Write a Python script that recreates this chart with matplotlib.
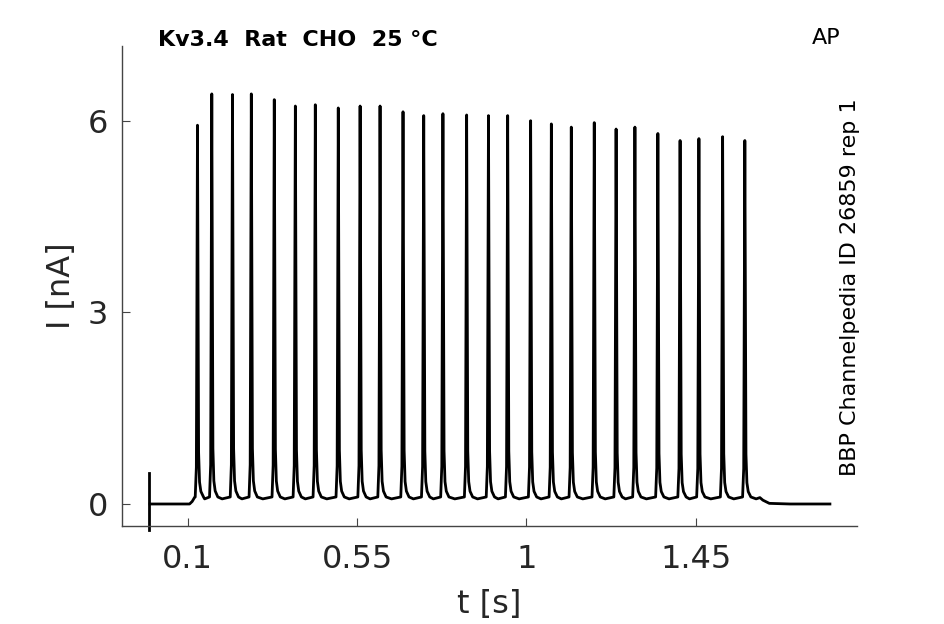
import matplotlib
matplotlib.use("Agg")
import matplotlib.pyplot as plt
import numpy as np

# spike peak times [s] and peak amplitudes [nA]
spike_t = [0.126, 0.164, 0.219, 0.269, 0.330, 0.386, 0.439, 0.500, 0.558,
           0.611, 0.672, 0.727, 0.778, 0.841, 0.899, 0.950, 1.011, 1.066,
           1.119, 1.180, 1.238, 1.288, 1.349, 1.408, 1.458, 1.521, 1.580]
spike_peak = [5.93, 6.42, 6.41, 6.42, 6.33, 6.23, 6.25, 6.20, 6.23,
              6.23, 6.14, 6.08, 6.11, 6.09, 6.08, 6.08, 6.00, 5.95,
              5.90, 5.97, 5.87, 5.90, 5.80, 5.69, 5.72, 5.75, 5.69]

# baseline before and after the spike train
pre_t = [0.0, 0.105, 0.112, 0.118]
pre_i = [0.0, 0.0, 0.04, 0.10]
post_t = [1.610, 1.620, 1.628, 1.645, 1.700, 1.806]
post_i = [0.08, 0.10, 0.06, 0.01, 0.0, 0.0]
trough_i = 0.11

# stimulus artifact at t = 0
art_t = -0.003
art_i = [0.49, -0.41]

# shape of one spike: offsets from peak [s], fraction of height above trough
shape_dt = [-0.006, -0.003, -0.0015, 0.0, 0.0015, 0.003, 0.0055, 0.009, 0.016]
shape_f = [0.0, 0.08, 0.55, 1.0, 0.55, 0.12, 0.04, 0.015, 0.0]

ts = list(pre_t)
ys = list(pre_i)
for k, (tp, pk) in enumerate(zip(spike_t, spike_peak)):
    for dt, f in zip(shape_dt, shape_f):
        ts.append(tp + dt)
        ys.append(trough_i + f * (pk - trough_i))
    if k + 1 < len(spike_t):
        # slight sag in the inter-spike trough
        mid = 0.5 * (tp + spike_t[k + 1])
        ts.append(mid)
        ys.append(trough_i - 0.03)
ts += post_t
ys += post_i

fig = plt.figure(figsize=(9.45, 6.24), dpi=100)
ax = fig.add_axes([0.1291, 0.1571, 0.7778, 0.7692])

ax.plot(ts, ys, color="black", lw=2.0, solid_joinstyle="round")
ax.plot([art_t, art_t], art_i, color="black", lw=2.0, clip_on=False)

ax.set_xlim(-0.0745, 1.878)
ax.set_ylim(-0.344, 7.17)
ax.set_xticks([0.1, 0.55, 1, 1.45])
ax.set_xticklabels(["0.1", "0.55", "1", "1.45"])
ax.set_yticks([0, 3, 6])

for s in ["top", "right"]:
    ax.spines[s].set_visible(False)
for s in ["left", "bottom"]:
    ax.spines[s].set_color("#444444")
    ax.spines[s].set_linewidth(1.0)

ax.tick_params(direction="in", length=6, width=0.8, color="#444444",
               labelsize=23, labelcolor="#262626")
ax.tick_params(axis="x", pad=13)
ax.tick_params(axis="y", pad=10)
ax.set_xlabel("t [s]", fontsize=23, color="#262626", labelpad=10)
ax.set_ylabel("I [nA]", fontsize=23, color="#262626", labelpad=8)

fig.text(158 / 945, 1 - 40 / 624, "Kv3.4  Rat  CHO  25 \u00b0C", fontsize=16,
         fontweight="bold", ha="left", va="center")
fig.text(826 / 945, 1 - 38 / 624, "AP", fontsize=16, ha="center", va="center")
fig.text(850 / 945, 1 - 287 / 624, "BBP Channelpedia ID 26859 rep 1",
         fontsize=16, rotation=90, ha="center", va="center")

fig.savefig("out.png", dpi=100)
